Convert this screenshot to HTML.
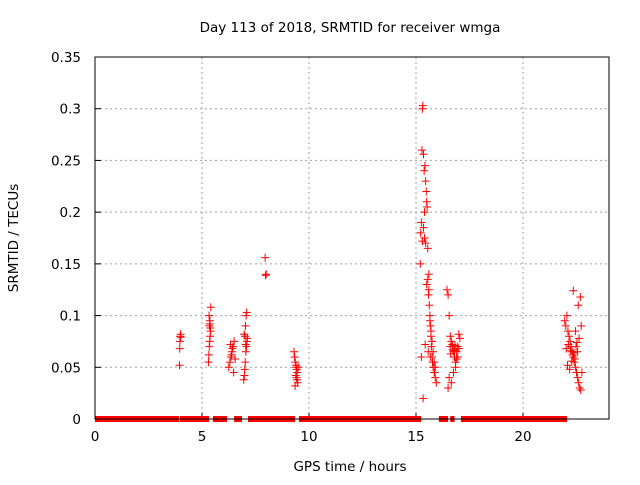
<!DOCTYPE html>
<html><head><meta charset="utf-8"><style>
body{margin:0;background:#fff;width:640px;height:480px;overflow:hidden}
svg{font-family:"DejaVu Sans","Liberation Sans",sans-serif}
</style></head><body>
<svg id="chart" width="640" height="480">
<text x="350" y="32" font-size="13.5" text-anchor="middle">Day 113 of 2018, SRMTID for receiver wmga</text>
<text x="350" y="471" font-size="13.5" text-anchor="middle">GPS time / hours</text>
<text transform="translate(18,238) rotate(-90)" font-size="13.5" text-anchor="middle">SRMTID / TECUs</text>
<g id="grid"></g><g id="ticks"></g><g id="marks"></g>
<rect x="95" y="57" width="514" height="362" fill="none" stroke="#000"/>
</svg>
<script>
const xTicks=[0,5,10,15,20];
const yTicks=[0,0.05,0.1,0.15,0.2,0.25,0.3,0.35];
const yLabels=["0","0.05","0.1","0.15","0.2","0.25","0.3","0.35"];
const zeroSegments=[[0,3.93],[3.97,5.33],[5.51,6.17],[6.5,6.87],[7.15,9.35],[9.53,15.24],[16.07,16.5],[16.6,16.8],[17.1,22.06]];
const times=[3.95,3.96,3.97,3.98,4.0,4.01,
5.3,5.32,5.34,5.36,5.38,5.4,5.35,5.37,5.33,5.41,5.39,5.36,
6.25,6.3,6.35,6.4,6.45,6.5,6.55,6.38,6.42,6.48,6.33,
6.95,6.98,7.0,7.02,7.05,7.08,7.1,7.12,6.97,7.03,7.06,7.09,7.01,7.04,
7.95,7.97,8.0,
9.3,9.33,9.36,9.4,9.42,9.45,9.38,9.41,9.44,9.47,9.35,9.5,9.39,
15.2,15.22,15.25,15.28,15.3,15.32,15.35,15.38,15.4,15.42,15.45,15.48,15.5,15.52,15.55,15.58,15.6,15.62,15.65,15.68,15.7,15.72,15.75,15.8,15.85,15.9,15.95,15.3,15.35,15.4,15.45,15.5,15.55,15.6,15.65,15.7,15.75,15.8,15.85,15.9,15.25,15.33,15.43,15.57,15.67,15.77,15.87,
16.45,16.5,16.55,16.6,16.65,16.7,16.75,16.8,16.85,16.9,16.95,17.0,17.05,16.55,16.65,16.75,16.85,16.95,17.0,16.6,16.7,16.8,16.9,16.5,16.62,16.72,16.82,
21.95,22.0,22.05,22.1,22.15,22.2,22.25,22.3,22.35,22.4,22.45,22.5,22.55,22.6,22.65,22.7,22.75,22.02,22.12,22.22,22.32,22.42,22.52,22.62,22.72,22.08,22.18,22.28,22.38,22.48,22.58,22.68,22.35,22.45,22.55];
const values=[0.052,0.068,0.075,0.08,0.082,0.079,
0.055,0.062,0.07,0.075,0.08,0.085,0.09,0.095,0.1,0.108,0.088,0.092,
0.05,0.055,0.06,0.065,0.07,0.075,0.058,0.062,0.068,0.045,0.072,
0.038,0.042,0.048,0.055,0.065,0.07,0.075,0.078,0.082,0.09,0.1,0.103,0.08,0.072,
0.156,0.139,0.14,
0.065,0.06,0.055,0.05,0.048,0.045,0.042,0.04,0.038,0.035,0.032,0.05,0.052,
0.15,0.18,0.19,0.26,0.3,0.303,0.256,0.24,0.2,0.245,0.23,0.22,0.21,0.205,0.165,0.12,0.125,0.11,0.1,0.09,0.08,0.07,0.06,0.05,0.045,0.04,0.035,0.172,0.185,0.175,0.17,0.13,0.135,0.14,0.095,0.085,0.075,0.065,0.055,0.05,0.06,0.02,0.072,0.065,0.06,0.055,0.045,
0.125,0.12,0.1,0.08,0.075,0.07,0.065,0.06,0.055,0.065,0.07,0.082,0.078,0.04,0.035,0.045,0.05,0.06,0.068,0.07,0.072,0.066,0.058,0.03,0.063,0.067,0.071,
0.095,0.09,0.1,0.085,0.08,0.075,0.07,0.065,0.06,0.055,0.05,0.045,0.04,0.035,0.03,0.028,0.045,0.068,0.072,0.066,0.062,0.058,0.074,0.078,0.09,0.052,0.048,0.056,0.064,0.07,0.11,0.118,0.124,0.085,0.065,0.06];
const NS="http://www.w3.org/2000/svg";
const X0=95,PXH=21.4,Y0=419,YS=362/0.35;
function xs(h){return X0+h*PXH}
function ys(v){return Y0-v*YS}
function mk(tag,at,parent){const e=document.createElementNS(NS,tag);for(const k in at)e.setAttribute(k,at[k]);document.getElementById(parent).appendChild(e);return e}
xTicks.forEach((t,i)=>{
 const x=xs(t);
 if(t>0){const g=mk('line',{x1:x,x2:x,y1:57,y2:419,stroke:'#a0a0a0','stroke-dasharray':'2,3'},'grid');
 
 }
 const tk=mk('line',{x1:x,x2:x,y1:419,y2:413,stroke:'#000'},'ticks');
 
 
 const l=mk('text',{x:x,y:441,'font-size':13.5,'text-anchor':'middle'},'ticks');l.textContent=t;
 
 
});
yTicks.forEach((v,i)=>{
 const y=ys(v);
 if(v>0&&v<0.35){const g=mk('line',{x1:95,x2:609,y1:y,y2:y,stroke:'#a0a0a0','stroke-dasharray':'2,3'},'grid');
 
 }
 const tk=mk('line',{x1:95,x2:101,y1:y,y2:y,stroke:'#000'},'ticks');
 
 
 const l=mk('text',{x:81,y:y+5,'font-size':13.5,'text-anchor':'end'},'ticks');l.textContent=yLabels[i];
 
 
});
zeroSegments.forEach(s=>{
 const r=mk('rect',{x:xs(s[0]),y:ys(0)-3,width:xs(s[1])-xs(s[0]),height:6,fill:'#f00'},'marks');
 
 
});
mk('line',{x1:95,x2:609,y1:419,y2:419,stroke:'#000'},'marks');
times.forEach((t,i)=>{
 const x=xs(t),y=ys(values[i]);
 const p=mk('path',{d:`M${x-4},${y}h8M${x},${y-4}v8`,stroke:'#f00','stroke-width':1},'marks');
 
 
});
</script>
</body></html>
